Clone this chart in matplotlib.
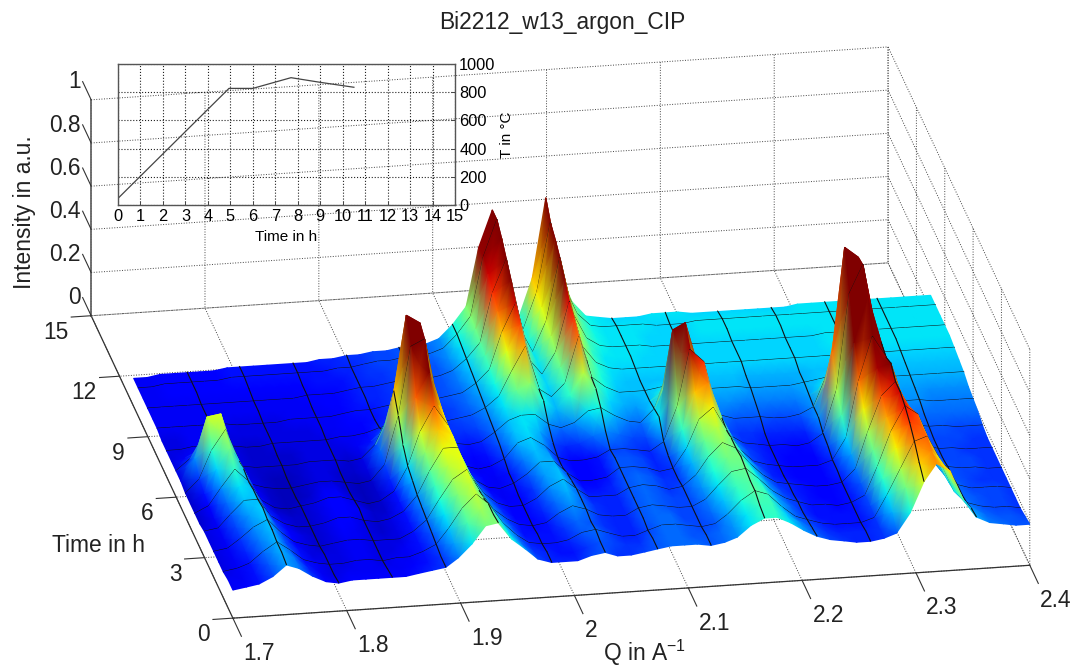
import numpy as np
import matplotlib
matplotlib.use('Agg')
import matplotlib.pyplot as plt
from mpl_toolkits.mplot3d import proj3d

plt.rcParams['font.family'] = ['Liberation Sans', 'DejaVu Sans']
plt.rcParams['mathtext.default'] = 'regular'
plt.rcParams['grid.linestyle'] = ':'
plt.rcParams['grid.linewidth'] = 0.7
plt.rcParams['grid.color'] = '#444444'

q_values = [1.700, 1.712, 1.723, 1.735, 1.747, 1.758, 1.770, 1.782, 1.793, 1.805,
            1.817, 1.828, 1.840, 1.852, 1.863, 1.875, 1.887, 1.898, 1.910, 1.922,
            1.933, 1.945, 1.957, 1.968, 1.980, 1.992, 2.003, 2.015, 2.027, 2.038,
            2.050, 2.062, 2.073, 2.085, 2.097, 2.108, 2.120, 2.132, 2.143, 2.155,
            2.167, 2.178, 2.190, 2.202, 2.213, 2.225, 2.237, 2.248, 2.260, 2.272,
            2.283, 2.295, 2.307, 2.318, 2.330, 2.342, 2.353, 2.365, 2.377, 2.388, 2.400]
time_values = [0, 0.5, 1, 1.5, 2, 2.5, 3, 3.5, 4, 4.5, 5, 5.5, 6, 6.5, 7, 7.5, 8, 8.5, 9, 9.5, 10, 10.5]

# intensity, in percent, one row per time value
intensity_pct = [
    [13,14,15,18,23,21,17,14,13,14, 14,14,14,14,15,16,17,21,27,35, 36,28,23,18,16,16,16,18,19,17, 17,18,19,20,20,20,19,20,22,27, 30,30,27,23,20,18,17,16,16,17, 19,28,42,50,46,32,24,21,20,19,19],
    [13,13,15,19,24,21,16,13,12,13, 13,13,13,13,14,15,17,23,32,38, 35,27,21,17,16,15,15,17,19,18, 17,17,19,20,20,19,19,20,22,27, 31,31,26,22,19,17,16,16,16,17, 24,35,46,51,43,30,23,20,19,19,18],
    [12,13,15,20,24,20,15,13,12,12, 13,13,12,13,13,15,18,25,34,40, 35,26,20,16,15,15,16,19,20,18, 16,16,18,20,20,19,18,19,23,29, 33,31,25,20,18,16,15,15,15,17, 27,39,51,53,41,27,21,19,18,18,17],
    [12,13,16,21,25,19,15,12,12,12, 13,13,12,12,13,15,19,27,36,41, 33,24,19,15,15,15,17,20,19,17, 16,16,19,20,20,18,18,20,25,31, 33,30,24,20,17,15,15,15,15,18, 30,44,55,53,39,26,20,19,18,18,17],
    [12,13,17,22,25,19,14,12,11,12, 13,13,12,12,12,15,20,29,38,42, 32,23,18,15,14,15,19,22,20,17, 16,16,19,20,19,18,18,21,27,33, 34,29,23,19,17,15,15,14,15,18, 31,47,58,54,39,25,20,18,18,18,17],
    [12,13,18,23,26,18,14,12,11,12, 14,13,12,11,12,15,21,31,40,43, 31,22,17,14,14,16,20,24,20,17, 16,16,19,20,19,18,18,22,29,35, 35,28,22,18,16,15,14,14,15,19, 34,49,60,50,35,23,19,18,17,17,17],
    [12,13,19,25,25,17,13,11,11,12, 14,14,12,11,12,15,22,33,43,43, 30,21,16,14,14,17,22,25,20,16, 16,16,19,20,19,17,18,23,31,37, 34,27,21,17,16,15,14,14,15,21, 38,54,60,47,30,21,19,18,18,17,17],
    [11,13,20,27,25,16,12,11,11,12, 14,14,13,11,11,15,24,37,47,44, 29,20,15,13,14,17,23,25,19,15, 15,16,19,20,19,17,17,24,34,40, 34,26,20,16,15,14,14,14,16,23, 44,62,64,46,29,21,18,18,18,17,17],
    [11,14,22,30,24,15,11,10,11,12, 14,14,12,10,11,15,26,42,53,44, 27,18,14,13,15,19,24,24,18,14, 14,15,19,19,18,16,17,26,39,44, 33,24,18,16,15,14,14,14,16,26, 52,72,62,41,26,20,18,18,17,17,17],
    [11,15,26,35,25,14,11,10,10,11, 13,13,11,10,11,16,31,53,64,45, 25,16,14,13,15,21,25,23,16,14, 14,15,19,19,18,16,18,30,47,51, 34,23,18,16,15,14,14,14,18,32, 65,85,64,38,24,20,18,18,18,17,17],
    [11,17,30,39,24,13,11,10,10,11, 12,12,11,10,11,18,40,72,75,41, 22,15,13,14,17,24,26,22,16,14, 14,15,18,18,17,16,20,36,62,56, 31,21,17,16,15,15,14,15,19,39, 83,96,62,33,23,20,19,19,18,18,18],
    [12,22,41,42,20,12,11,10,10,11, 12,12,11,11,12,20,47,82,78,38, 21,15,14,15,19,25,27,24,18,16, 17,20,22,20,18,18,27,67,70,42, 25,19,17,17,16,16,16,16,22,52, 100,95,52,30,24,21,20,20,20,20,20],
    [12,17,24,24,16,12,11,11,11,11, 12,12,12,11,12,18,31,45,43,27, 19,16,15,16,20,25,27,27,22,20, 22,27,28,24,21,20,26,41,42,31, 24,21,19,19,19,18,18,19,22,37, 54,53,36,27,24,22,22,21,21,21,21],
    [12,13,15,15,13,12,11,11,11,11, 12,12,12,12,13,15,19,22,22,19, 17,17,17,18,21,27,34,37,28,24, 30,40,32,26,24,23,25,29,30,27, 24,22,22,21,21,21,21,21,23,27, 32,32,28,25,24,23,23,22,22,22,22],
    [12,12,13,13,12,12,11,11,12,12, 12,12,12,13,13,14,16,17,17,17, 17,17,18,19,22,27,38,49,29,25, 31,52,33,28,25,25,25,26,27,26, 25,24,24,24,23,23,23,23,24,25, 26,26,25,25,24,24,24,24,24,24,24],
    [12,12,13,13,13,12,12,12,12,12, 12,12,13,13,14,14,15,16,17,17, 17,17,18,20,23,28,43,55,31,26, 34,56,36,29,26,25,25,25,25,25, 25,25,25,25,24,24,24,24,24,25, 25,25,25,25,25,25,25,25,25,25,25],
    [13,13,13,13,13,13,12,12,12,12, 13,13,13,13,14,15,15,16,17,17, 17,18,19,20,24,30,47,60,33,26, 36,59,38,30,27,26,26,26,26,26, 26,26,26,26,26,26,26,26,26,26, 26,26,26,26,26,26,26,26,26,26,26],
    [13,13,13,13,13,13,13,13,13,13, 13,13,13,14,14,15,16,16,17,17, 18,18,19,21,25,32,52,66,36,27, 39,65,41,31,27,27,27,26,26,26, 26,26,26,26,26,26,26,26,26,26, 26,27,27,27,27,27,27,27,27,27,27],
    [13,13,13,13,13,13,13,13,13,13, 13,13,14,14,14,15,16,16,17,18, 18,18,19,21,26,33,56,71,38,27, 41,70,44,32,28,27,27,27,26,26, 26,26,26,26,26,26,26,26,26,26, 26,27,27,27,27,27,27,27,27,27,27],
    [13,13,14,14,14,14,14,14,14,14, 14,14,14,15,15,15,16,17,17,18, 18,19,19,22,27,35,60,76,40,28, 43,74,46,33,28,27,27,27,26,26, 26,26,27,27,27,27,27,27,27,27, 27,27,27,27,27,27,27,27,27,27,27],
    [13,13,14,14,14,14,14,15,15,15, 15,15,15,15,15,16,16,17,18,18, 19,19,20,22,28,36,63,80,42,28, 45,77,48,34,28,27,27,27,27,26, 26,26,27,27,27,27,27,27,27,27, 27,27,27,27,27,27,27,27,27,27,27],
    [13,13,14,14,14,14,14,15,15,15, 15,15,15,15,16,16,17,17,18,18, 19,19,20,22,28,36,63,80,42,29, 47,84,50,35,28,27,26,26,26,27, 27,27,26,26,26,26,26,26,26,26, 27,27,27,27,27,27,27,27,27,27,27],
]

q_ticks = [1.7, 1.8, 1.9, 2.0, 2.1, 2.2, 2.3, 2.4]
q_tick_labels = ['1.7', '1.8', '1.9', '2', '2.1', '2.2', '2.3', '2.4']
time_ticks = [0, 3, 6, 9, 12, 15]
z_ticks = [0, 0.2, 0.4, 0.6, 0.8, 1]
z_tick_labels = ['0', '0.2', '0.4', '0.6', '0.8', '1']

# furnace program for the inset
ramp_time = [0, 4.94, 6, 7.7, 9, 10.5]
ramp_temp = [47, 827, 827, 903, 870, 835]

Q = np.array(q_values)
T = np.array(time_values)
Z = np.array(intensity_pct) / 100.0

W, H = 1071, 670
rect = [10.5 / W, -212.5 / H, 1, W / H]
fig = plt.figure(figsize=(W / 100, H / 100), dpi=100)
ax = fig.add_axes(rect, projection='3d')
ax.patch.set_alpha(0)
ax.set_proj_type('ortho')
ax.view_init(elev=22.1, azim=-100)
ax.set_box_aspect((809, 816, 233), zoom=1.063)
ax.set_xlim(1.7, 2.4)
ax.set_ylim(0, 15)
ax.set_zlim(0, 1)
ax.set_xticks(q_ticks)
ax.set_yticks(time_ticks)
ax.set_zticks(z_ticks)
ax.set_xticklabels([])
ax.set_yticklabels([])
ax.set_zticklabels([])
for axis in (ax.xaxis, ax.yaxis, ax.zaxis):
    axis.set_pane_color((1, 1, 1, 0))
    axis.pane.set_edgecolor((1, 1, 1, 0))
    axis.line.set_color((0, 0, 0, 0))
    axis.set_tick_params(color=(0, 0, 0, 0))

# axis lines, ticks and labels
axc = '#333333'
ax.plot([1.7, 2.4], [0, 0], [0, 0], color=axc, lw=0.9)
ax.plot([1.7, 1.7], [0, 15], [0, 0], color=axc, lw=0.9)
ax.plot([1.7, 1.7], [15, 15], [0, 1], color='#666666', lw=1.3)
for q, lab in zip(q_ticks, q_tick_labels):
    ax.plot([q, q], [0, -0.9], [0, 0], color=axc, lw=0.8)
    ax.text(q, -1.1, -0.06, lab, fontsize=16.4, ha='left', va='center', color='#222222')
for t in time_ticks:
    ax.plot([1.7, 1.6825], [t, t], [0, 0], color=axc, lw=0.8)
    ax.text(1.68, t, -0.07, str(t), fontsize=16.4, ha='right', va='center', color='#222222')
for z, lab in zip(z_ticks, z_tick_labels):
    ax.plot([1.7, 1.7], [15, 15.9], [z, z], color=axc, lw=0.8)
    ax.text(1.7, 16.1, z - 0.02, lab, fontsize=16.4, ha='right', va='center', color='#222222')

# the surface is painted on a flat axes over the 3d one, through the 3d projection,
# strip by strip from back to front so the peaks hide what is behind them
M = ax.get_proj()


def project(x, y, z):
    sx, sy, _ = proj3d.proj_transform(np.ravel(x), np.ravel(y), np.ravel(z), M)
    return np.reshape(sx, np.shape(x)), np.reshape(sy, np.shape(x))


flat = fig.add_axes(rect)
flat.set_axis_off()
flat.patch.set_alpha(0)
flat.set_xlim(ax.viewLim.intervalx)
flat.set_ylim(ax.viewLim.intervaly)
flat.autoscale(False)

nrows = len(T)
order = 10
linec = '#111111'
for i in range(nrows - 2, -1, -1):
    qq, tt = np.meshgrid(Q[::-1], T[i:i + 2])
    zz = Z[i:i + 2, ::-1]
    sx, sy = project(qq, tt, zz)
    flat.pcolormesh(sx, sy, zz, shading='gouraud', cmap='jet', vmin=0.07, vmax=0.64, zorder=order)
    order += 1
    for j in range(4, 60, 4):
        lx, ly = project(np.array([Q[j], Q[j]]), T[i:i + 2], Z[i:i + 2, j] + 0.002)
        flat.plot(lx, ly, color=linec, lw=0.8, zorder=order)
    if i % 2 == 0 and i > 0:
        lx, ly = project(Q, np.full(len(Q), T[i]), Z[i] + 0.002)
        flat.plot(lx, ly, color=linec, lw=0.8, zorder=order)
    order += 1


def px(x, y):
    return x / W, 1 - y / H


fig.text(*px(562, 22), 'Bi2212_w13_argon_CIP', fontsize=16.4, ha='center', va='center', color='#222222')
fig.text(*px(25, 212), 'Intensity in a.u.', fontsize=16.4, rotation=90, ha='center', va='center', color='#222222')
fig.text(*px(98, 545), 'Time in h', fontsize=16.4, ha='center', va='center', color='#222222')
fig.text(*px(603, 653), 'Q in A$^{-1}$', fontsize=16.4, ha='left', va='center', color='#222222')

# inset with the temperature program
inset = fig.add_axes([118 / W, (H - 205) / H, 337 / W, 141 / H])
inset.patch.set_alpha(0)
inset.plot(ramp_time, ramp_temp, color='#444444', lw=0.9)
inset.set_xlim(0, 15)
inset.set_ylim(0, 1000)
inset.set_xticks(range(0, 16))
inset.set_yticks(range(0, 1001, 200))
inset.yaxis.tick_right()
inset.yaxis.set_label_position('right')
inset.tick_params(direction='in', length=3, width=0.7, labelsize=11.8, pad=3, color='#444444')
inset.grid(True, color='#222222', lw=0.8)
inset.set_xlabel('Time in h', fontsize=11, labelpad=4)
inset.set_ylabel('T in °C', fontsize=11, labelpad=3)
for s in inset.spines.values():
    s.set_color('#555555')
    s.set_linewidth(1.0)

fig.savefig('out.png', dpi=100)
